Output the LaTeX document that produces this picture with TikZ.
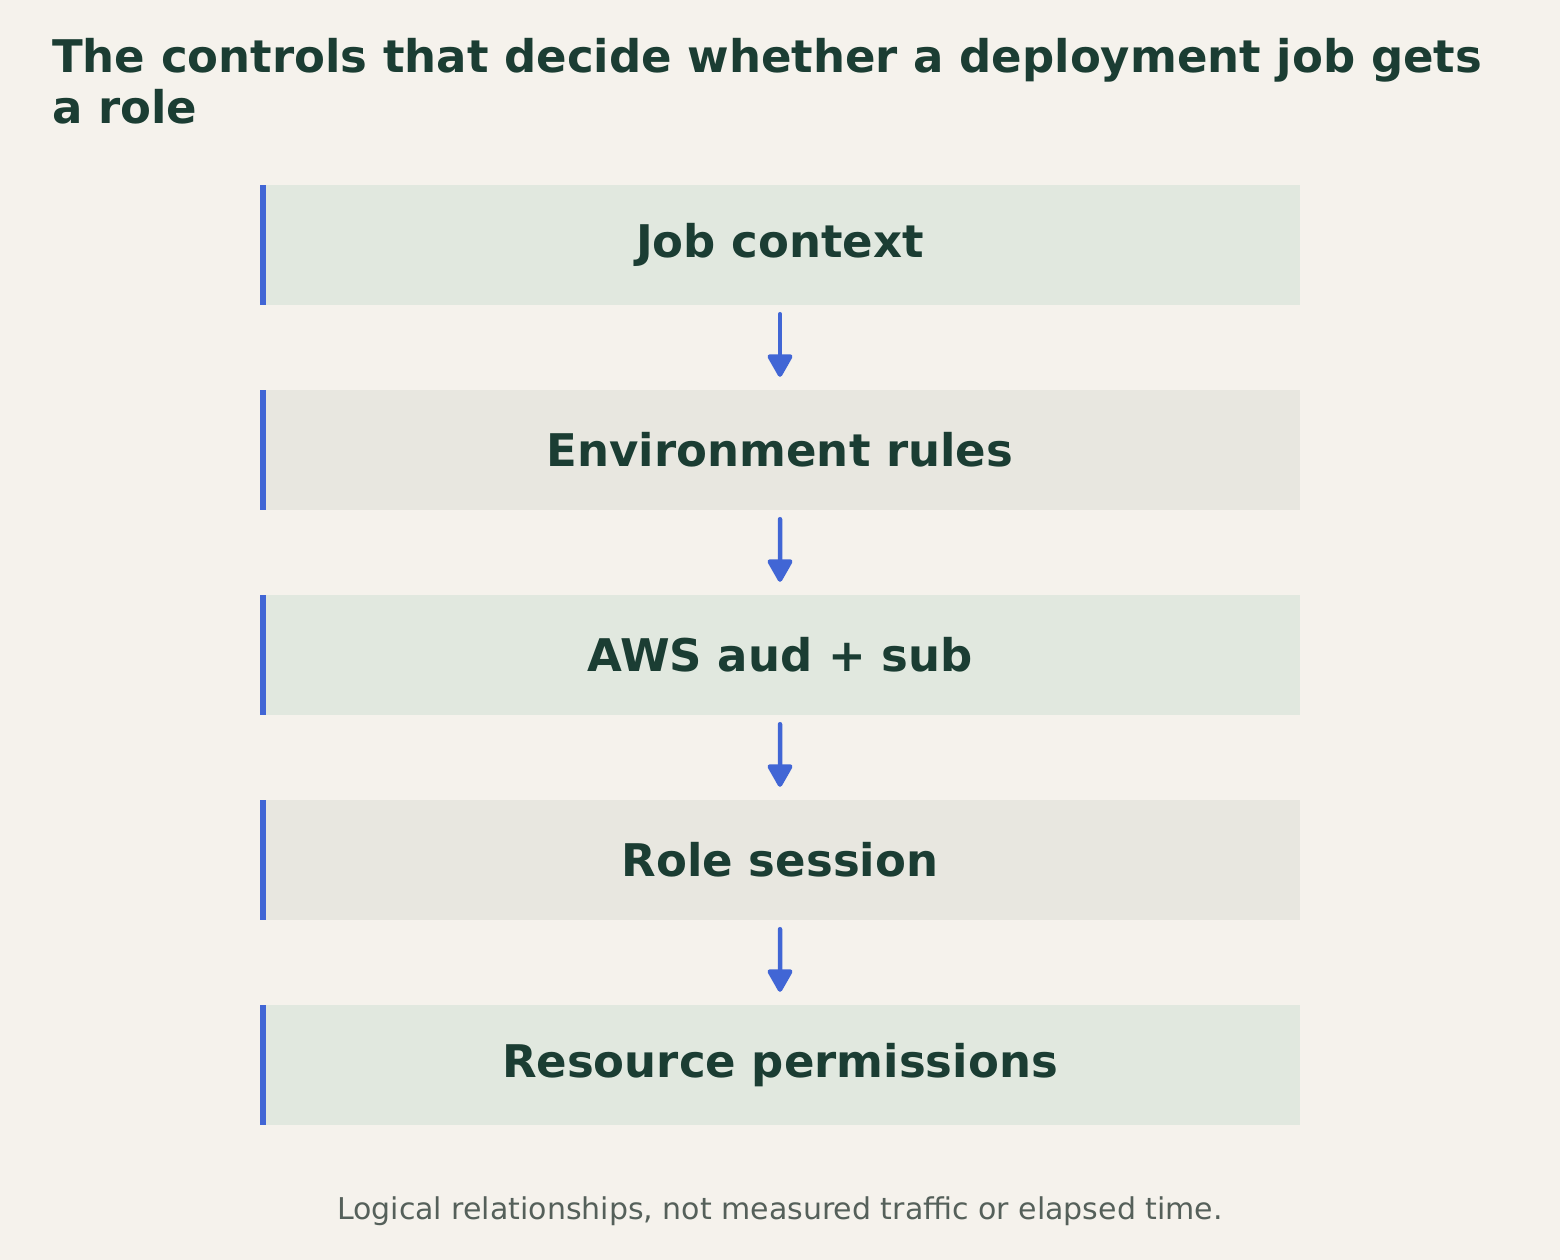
\documentclass[tikz,border=0pt]{standalone}
\usepackage{fontspec}
\setmainfont{DejaVu Sans}
\usetikzlibrary{arrows.meta}
\definecolor{pagebg}{HTML}{F5F2EC}
\definecolor{boxgreen}{HTML}{E1E8DF}
\definecolor{boxgray}{HTML}{E8E7E0}
\definecolor{barblue}{HTML}{4166D5}
\definecolor{inkgreen}{HTML}{1B3D33}
\definecolor{notegray}{HTML}{55605A}
\tikzset{
  ctrlbox/.style={fill=boxgreen, text=inkgreen, minimum width=1040pt,
    minimum height=120pt, inner sep=0pt,
    font=\fontsize{45pt}{52pt}\selectfont\bfseries,
    path picture={\fill[barblue] (path picture bounding box.north west)
      rectangle ([xshift=6pt]path picture bounding box.south west);}},
  ctrlboxalt/.style={ctrlbox, fill=boxgray}
}
\begin{document}
\begin{tikzpicture}[grow=down, level distance=205pt,
  edge from parent/.style={draw=barblue, line width=4.5pt, line cap=round,
    -{Triangle[length=25pt,width=27pt,round]},
    shorten <=9pt, shorten >=13pt},
  edge from parent path={(\tikzparentnode.south) -- (\tikzchildnode.north)}]
  \fill[pagebg] (0,0) rectangle (1560pt,-1260pt);
  \useasboundingbox (0,0) rectangle (1560pt,-1260pt);
  % title
  \node[anchor=north west, align=left, inner sep=0pt, text=inkgreen,
    font=\fontsize{45pt}{51pt}\selectfont\bfseries] (title) at (52pt,-38pt)
    {The controls that decide whether a deployment job gets\\a role};
  % chain of controls
  \node[ctrlbox] (job) at (780pt,-245pt) {Job context}
    child {node[ctrlboxalt] (env) {Environment rules}
      child {node[ctrlbox] (aws) {AWS aud + sub}
        child {node[ctrlboxalt] (role) {Role session}
          child {node[ctrlbox] (perm) {Resource permissions}}
        }
      }
    };
  % footnote
  \node[anchor=base, text=notegray, font=\fontsize{30pt}{36pt}\selectfont]
    (note) at (780pt,-1219pt)
    {Logical relationships, not measured traffic or elapsed time.};
\end{tikzpicture}
\end{document}
